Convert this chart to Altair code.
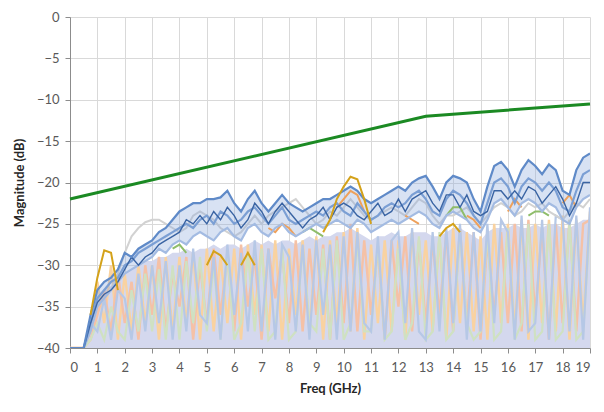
import altair as alt
import pandas as pd

# frequency grid (GHz), one row of four per GHz
FREQ = [0, 0.25, 0.5, 0.75, 1, 1.25, 1.5, 1.75, 2, 2.25, 2.5, 2.75,
        3, 3.25, 3.5, 3.75, 4, 4.25, 4.5, 4.75, 5, 5.25, 5.5, 5.75,
        6, 6.25, 6.5, 6.75, 7, 7.25, 7.5, 7.75, 8, 8.25, 8.5, 8.75,
        9, 9.25, 9.5, 9.75, 10, 10.25, 10.5, 10.75, 11, 11.25, 11.5, 11.75,
        12, 12.25, 12.5, 12.75, 13, 13.25, 13.5, 13.75, 14, 14.25, 14.5, 14.75,
        15, 15.25, 15.5, 15.75, 16, 16.25, 16.5, 16.75, 17, 17.25, 17.5, 17.75,
        18, 18.25, 18.5, 18.75, 19]

# top of the dense pastel mass
MASS = [-40, -40, -40, -37, -34, -33, -32.5, -31.5, -31, -30.5, -30, -29.5,
        -29.5, -29, -29, -28.5, -28.5, -28, -28.5, -28, -28, -27.5, -28, -27.5,
        -27.5, -28, -27.5, -27, -27.5, -27, -27.5, -27, -27, -27.5, -27, -26.5,
        -27, -26.5, -26.5, -26, -26, -25.5, -26, -26.5, -27, -26.5, -26.5, -26,
        -26.5, -26.5, -26, -26, -26, -26.5, -26.5, -26, -25.5, -25.5, -26, -26.5,
        -27, -26, -25.5, -25.5, -25.5, -25, -25.5, -25.5, -25, -25.5, -25, -25,
        -25.5, -25.5, -25, -24.5, -24.5]

# spiky pastel traces
PEACH = [-40, -40, -40, -39, -36, -33, -38, -31, -37, -32, -39, -30,
         -36, -29, -38, -31, -35, -29, -39, -30, -37, -28, -36, -29,
         -38, -27.5, -35, -29, -39, -28, -34, -28.5, -37, -27, -38, -28,
         -36, -27.5, -39, -26.5, -37, -25, -38, -27, -36, -28, -39, -27,
         -35, -26.5, -38, -27, -37, -27, -36, -26, -38, -25.5, -37, -26,
         -39, -27, -36, -26, -37, -25, -38, -24.5, -36, -25.5, -39, -25,
         -37, -24.5, -38, -25, -24.5]
LIGHT_ORANGE = [-40, -40, -40, -38, -32, -37, -30, -39, -31, -38, -30, -37,
                -30, -39, -29, -38, -29, -37, -28.5, -39, -28, -38, -29, -37,
                -28, -39, -27.5, -36, -27.5, -38, -27, -39, -28, -36, -27, -38,
                -26.5, -39, -27, -37, -26, -38, -25.5, -39, -27.5, -37, -27, -38,
                -27, -39, -26, -36, -27, -38, -26.5, -39, -25.5, -37, -26, -38,
                -26.5, -39, -25, -37, -25, -38, -24.5, -39, -25, -37, -24.5, -38,
                -24, -39, -24.5, -37, -23.5]
LIGHT_BLUE = [-40, -40, -40, -37, -38, -34, -39, -33, -34, -39, -31, -38,
              -30, -37, -29.5, -39, -30, -38, -28, -36, -37, -29, -39, -27.5,
              -36, -28.5, -38, -27, -38, -28, -39, -27.5, -29, -38, -27.5, -39,
              -27, -36, -27.5, -39, -26.5, -38, -26, -37, -38, -26.5, -39, -27,
              -26, -37, -25.5, -38, -39, -26, -38, -25.5, -37, -25, -39, -26,
              -38, -25, -37, -24.5, -26, -39, -24, -38, -37, -24.5, -39, -24,
              -24.5, -38, -24, -39, -23]
LIGHT_GREEN = [-40, -40, -40, -39, -37, -39, -35, -38, -39, -33, -38, -31,
               -38, -30.5, -39, -30, -39, -29.5, -37, -29, -38, -30, -39, -28.5,
               -39, -37, -28.5, -38, -28, -39, -38, -28, -39, -38, -28, -37,
               -38, -28, -39, -27, -39, -37, -27, -38, -38, -27.5, -39, -38,
               -28, -39, -37, -26.5, -39, -38, -26, -39, -38, -26, -37, -39,
               -38, -26, -39, -38, -25.5, -39, -37, -25, -39, -38, -25, -39,
               -38, -24.5, -39, -38, -25]

# upper traces (None = hidden under the mass)
GRAY = [-40, -40, -40, -38, -35, -34, -33, -31, -28.5, -26.5, -25.5, -24.8,
        -24.5, -24.5, -25, -25.5, -26, -25.5, -24, -23.5, -24, -24.5, -25.5, -26,
        -26.5, -26, -25, -24, -25, -24, -23.5, -23, -22.5, -22, -23, -24,
        -25, -24.5, -23.5, -24, -23, -22, -23, -24, -24.5, -24, -23.5, -23,
        -23.5, -24, -23, -22, -22.5, -24, -25, -24, -24, -23.5, -23, -24,
        -25, -24, -23, -22.5, -23, -24, -23.5, -22.5, -23, -22.5, -23.5, -24,
        -24.5, -23.5, -22.5, -23, -22]
GREEN = [None, None, None, None, None, None, None, None, None, None, None, None,
         None, None, None, -28, -27.5, -28.5, None, None, None, None, None, None,
         None, None, None, None, None, None, None, None, None, None, -26, -25.5,
         -26, -26.5, None, None, None, None, None, None, None, None, None, None,
         None, None, None, None, None, None, None, -24, -23, -23, -24.5, None,
         None, None, None, None, None, None, None, -24, -23.5, -23.5, -24, None,
         None, None, None, None, None]
ORANGE = [None, None, None, None, None, None, None, None, None, None, None, None,
          None, None, None, None, None, None, None, None, None, None, None, None,
          None, None, None, None, None, -25.5, -26, -25, -25.5, -26.5, None, None,
          None, None, None, -23, -22, -21, -21.5, -23.5, None, None, None, None,
          None, -24, -24.5, -25, None, None, None, None, None, None, -24, -24.5,
          -25.5, None, None, None, -23.5, -22, -23, None, None, None, None, None,
          -22.5, -21.5, -23, None, None]
GOLD = [None, None, None, -36, -31.5, -28.2, -28.5, -33, None, None, None, None,
        None, None, None, None, None, None, None, None, -30, -28.3, -28.8, -30,
        None, -30, -28.5, -30, None, None, None, None, None, None, None, None,
        None, -26, -24.5, -22, -20.5, -19.3, -19.6, -22, -25, None, None, None,
        None, None, None, None, None, None, -26.5, -25.5, -25, -26, None, None,
        None, None, None, None, None, None, None, None, None, None, None, None,
        None, None, None, None, None]
BLUE_C = [-40, -40, -40, -38, -35, -34, -33, -32, -31, -30.5, -30, -29.5,
          -29, -28, -28.5, -27.5, -27, -27.5, -26.5, -26, -26.5, -27, -26, -25.5,
          -26.5, -27, -25.5, -25, -26, -26.5, -25.5, -25, -26, -26.5, -26, -25.5,
          -25, -25.5, -25, -24.5, -25, -25.5, -24.5, -25, -26, -25.5, -25, -24.5,
          -25, -24.5, -24, -23.5, -24, -25, -25.5, -24, -23.5, -24, -24.5, -25.5,
          -26, -24.5, -22.5, -22, -23, -24, -22.5, -22, -22.5, -23.5, -22.5, -23,
          -24.5, -25, -23, -22, -21.5]
BLUE_B = [-40, -40, -40, -37, -34, -33, -32, -31.5, -30, -29.5, -28.5, -28,
          -27.5, -27, -26.5, -26, -25.5, -25, -25.5, -24.5, -24, -25, -23.5, -24,
          -25, -24.5, -23.5, -23, -24, -25, -24, -23, -24.5, -25, -24.5, -24,
          -23.5, -24, -23, -22.5, -23.5, -24, -22.5, -23.5, -24.5, -24, -23, -22.5,
          -23, -22.5, -21.5, -21, -22, -23.5, -24, -22, -21, -21.5, -22.5, -24,
          -25, -22.5, -20, -19.5, -20.5, -22.5, -20.5, -19.5, -20, -21, -20, -21,
          -23, -23.5, -21, -19, -18.5]
DARK_BLUE = [-40, -40, -40, -37, -34.5, -33.5, -33, -32, -30.5, -29, -30, -29,
             -28.5, -27.5, -27, -26.5, -26, -24.5, -25, -24, -25, -23.5, -24.5, -23,
             -24, -25.5, -24.5, -22.5, -23.5, -25, -23.5, -22.5, -23.5, -24.5, -25.5, -24.5,
             -24, -23, -24.5, -23, -22.5, -23, -24, -24.5, -23.5, -22.5, -24, -23.5,
             -22, -23.5, -22, -21.5, -21, -22.5, -23.5, -21.5, -21.5, -23, -21.5, -23.5,
             -24, -23.5, -21, -21, -22, -21, -22, -20.5, -21, -22.5, -21.5, -20.5,
             -22, -24, -22.5, -20, -20]
BLUE_A = [-40, -40, -40, -36, -33, -32, -31.5, -30.5, -28.5, -29, -28, -27.5,
          -27, -26, -25.5, -24.5, -23.5, -23, -22.5, -22.5, -22, -22, -21.8, -21,
          -22.5, -23.5, -22, -21, -22.5, -23.5, -22.5, -21.5, -22.5, -23, -23.5, -23,
          -22.5, -22, -22, -21.5, -21, -20.5, -21, -22, -22.5, -22, -21.5, -21,
          -20.5, -21, -20, -19.5, -19.2, -20.5, -22, -20, -19.2, -19.5, -20, -22,
          -23.5, -20.5, -18, -17.5, -18.5, -20.5, -18.5, -17.3, -18, -19, -17.8, -18.5,
          -21, -21.5, -18.5, -17, -16.5]

# limit line
LIMIT_FREQ = [0, 13, 19]
LIMIT_MAG = [-22, -12, -10.5]

x_enc = alt.X('freq:Q', scale=alt.Scale(domain=[0, 19], nice=False),
              axis=alt.Axis(values=list(range(20)), title='Freq (GHz)',
                            labelPadding=8, titlePadding=8))
y_enc = alt.Y('mag:Q', scale=alt.Scale(domain=[-40, 0], nice=False),
              axis=alt.Axis(values=list(range(-40, 1, 5)), format='d',
                            title='Magnitude (dB)', labelPadding=6, titlePadding=10))


def trace_df(values):
    return pd.DataFrame({'freq': FREQ, 'mag': values})


layers = [
    alt.Chart(trace_df(MASS)).mark_area(color='#d4d8ee', clip=True)
    .encode(x=x_enc, y=y_enc, y2=alt.datum(-40))
]

traces = [
    (LIGHT_ORANGE, '#f9d2a0', 2.4),
    (PEACH, '#f5c1a6', 2.4),
    (LIGHT_GREEN, '#cfe1c2', 2.2),
    (LIGHT_BLUE, '#b6c8e6', 2.2),
    (GRAY, '#d2d2d2', 2.0),
]
for values, colour, w in traces:
    layers.append(
        alt.Chart(trace_df(values)).mark_line(color=colour, strokeWidth=w, clip=True)
        .encode(x=x_enc, y=y_enc)
    )

# faint blue haze between the lower and upper blue traces
band = pd.DataFrame({'freq': FREQ, 'lo': BLUE_C, 'hi': BLUE_A})
layers.append(
    alt.Chart(band).mark_area(color='#8fabdc', opacity=0.35, clip=True)
    .encode(x=x_enc, y=alt.Y('hi:Q', scale=alt.Scale(domain=[-40, 0], nice=False)),
            y2='lo:Q')
)

traces = [
    (GREEN, '#8fbd6a', 2.0),
    (ORANGE, '#eea15c', 2.0),
    (BLUE_C, '#a3bbe2', 2.2),
    (BLUE_B, '#7b9fd4', 2.2),
    (DARK_BLUE, '#3a64a3', 1.4),
    (BLUE_A, '#5f8ac8', 2.2),
    (GOLD, '#d4a21a', 2.0),
]
for values, colour, w in traces:
    layers.append(
        alt.Chart(trace_df(values)).mark_line(color=colour, strokeWidth=w, clip=True)
        .encode(x=x_enc, y=y_enc)
    )

limit = pd.DataFrame({'freq': LIMIT_FREQ, 'mag': LIMIT_MAG})
layers.append(
    alt.Chart(limit).mark_line(color='#1b8a23', strokeWidth=3)
    .encode(x=x_enc, y=y_enc)
)

chart = (
    alt.layer(*layers)
    .properties(width=520, height=331, autosize=alt.AutoSizeParams(type='none'),
                padding={'left': 62, 'top': 9, 'right': 6, 'bottom': 50})
    .configure_view(stroke=None)
    .configure_axis(labelFont='Lato', labelFontSize=13, labelColor='#595959',
                    titleFont='Lato', titleFontSize=13, titleFontWeight='bold',
                    titleColor='#262626', gridColor='#d9d9d9', domainColor='#8c8c8c',
                    tickColor='#8c8c8c', tickSize=5)
)

chart.save("out.html", embed_options={"renderer": "svg", "actions": False})
